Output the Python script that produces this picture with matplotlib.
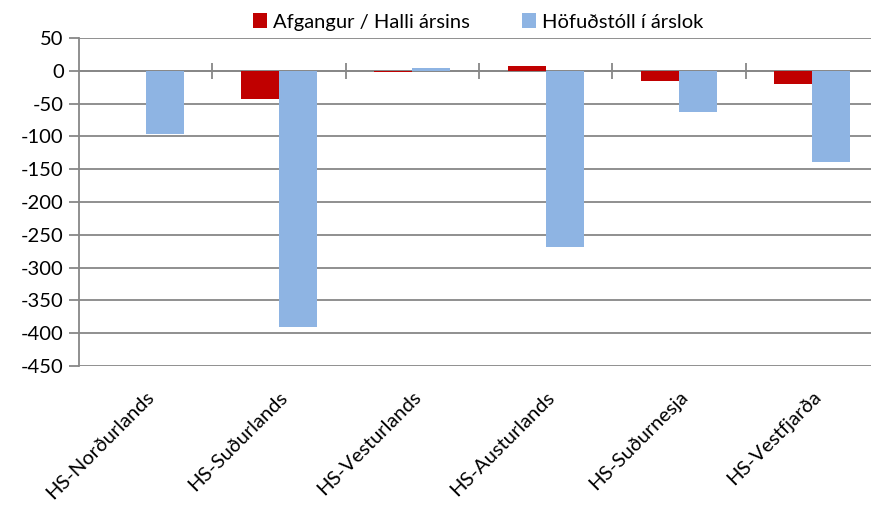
import matplotlib
matplotlib.use("Agg")
import matplotlib.pyplot as plt
import numpy as np

categories = ["HS-Norðurlands", "HS-Suðurlands", "HS-Vesturlands",
              "HS-Austurlands", "HS-Suðurnesja", "HS-Vestfjarða"]
afgangur = [0, -43, -2, 8, -16, -20]
hofudstoll = [-96, -390, 4, -269, -63, -139]
series_names = ["Afgangur / Halli ársins", "Höfuðstóll í árslok"]
yticks = list(range(-450, 51, 50))

plt.rcParams['font.family'] = ['Lato', 'DejaVu Sans']

W, H = 871, 505
fig = plt.figure(figsize=(W/100, H/100), dpi=100)
ax = fig.add_axes([79/W, (H-366)/H, 800/W, (366-38)/H])

x = np.arange(len(categories))
bw = 0.285
red = '#C00000'
blue = '#8EB4E3'
b1 = ax.bar(x - bw/2, afgangur, bw, color=red, label=series_names[0], zorder=3)
b2 = ax.bar(x + bw/2, hofudstoll, bw, color=blue, label=series_names[1], zorder=3)

ax.set_xlim(-0.5, len(categories) - 0.5)
ax.set_ylim(-450, 50)
ax.set_yticks(yticks)
ax.set_yticklabels([str(v) for v in yticks], fontsize=14.5)
gc = '#878787'
ax.yaxis.grid(True, color=gc, linewidth=1.3, zorder=1)
ax.set_axisbelow(True)
for s in ['top', 'right', 'bottom']:
    ax.spines[s].set_visible(False)
ax.spines['left'].set_color(gc)
ax.spines['left'].set_linewidth(1.3)
ax.tick_params(axis='y', length=7, width=1.3, color=gc, pad=4)

# category axis at zero with cross ticks at boundaries
ax.axhline(0, color=gc, linewidth=1.3, zorder=2)
ax.vlines(np.arange(0.5, len(categories) - 0.5), -12, 12, color=gc, linewidth=1.3, zorder=2)

ax.set_xticks(x)
ax.set_xticklabels(categories, rotation=45, ha='right', rotation_mode='anchor', fontsize=14.5)
ax.tick_params(axis='x', length=0, pad=16)

fig.legend(handles=[b1, b2], labels=series_names, loc='center', bbox_to_anchor=(478/W, 1 - 22/H),
           ncol=2, frameon=False, fontsize=14.5, handlelength=0.7, handleheight=0.7,
           handletextpad=0.3, columnspacing=2.6)

fig.savefig('out.png', dpi=100)
